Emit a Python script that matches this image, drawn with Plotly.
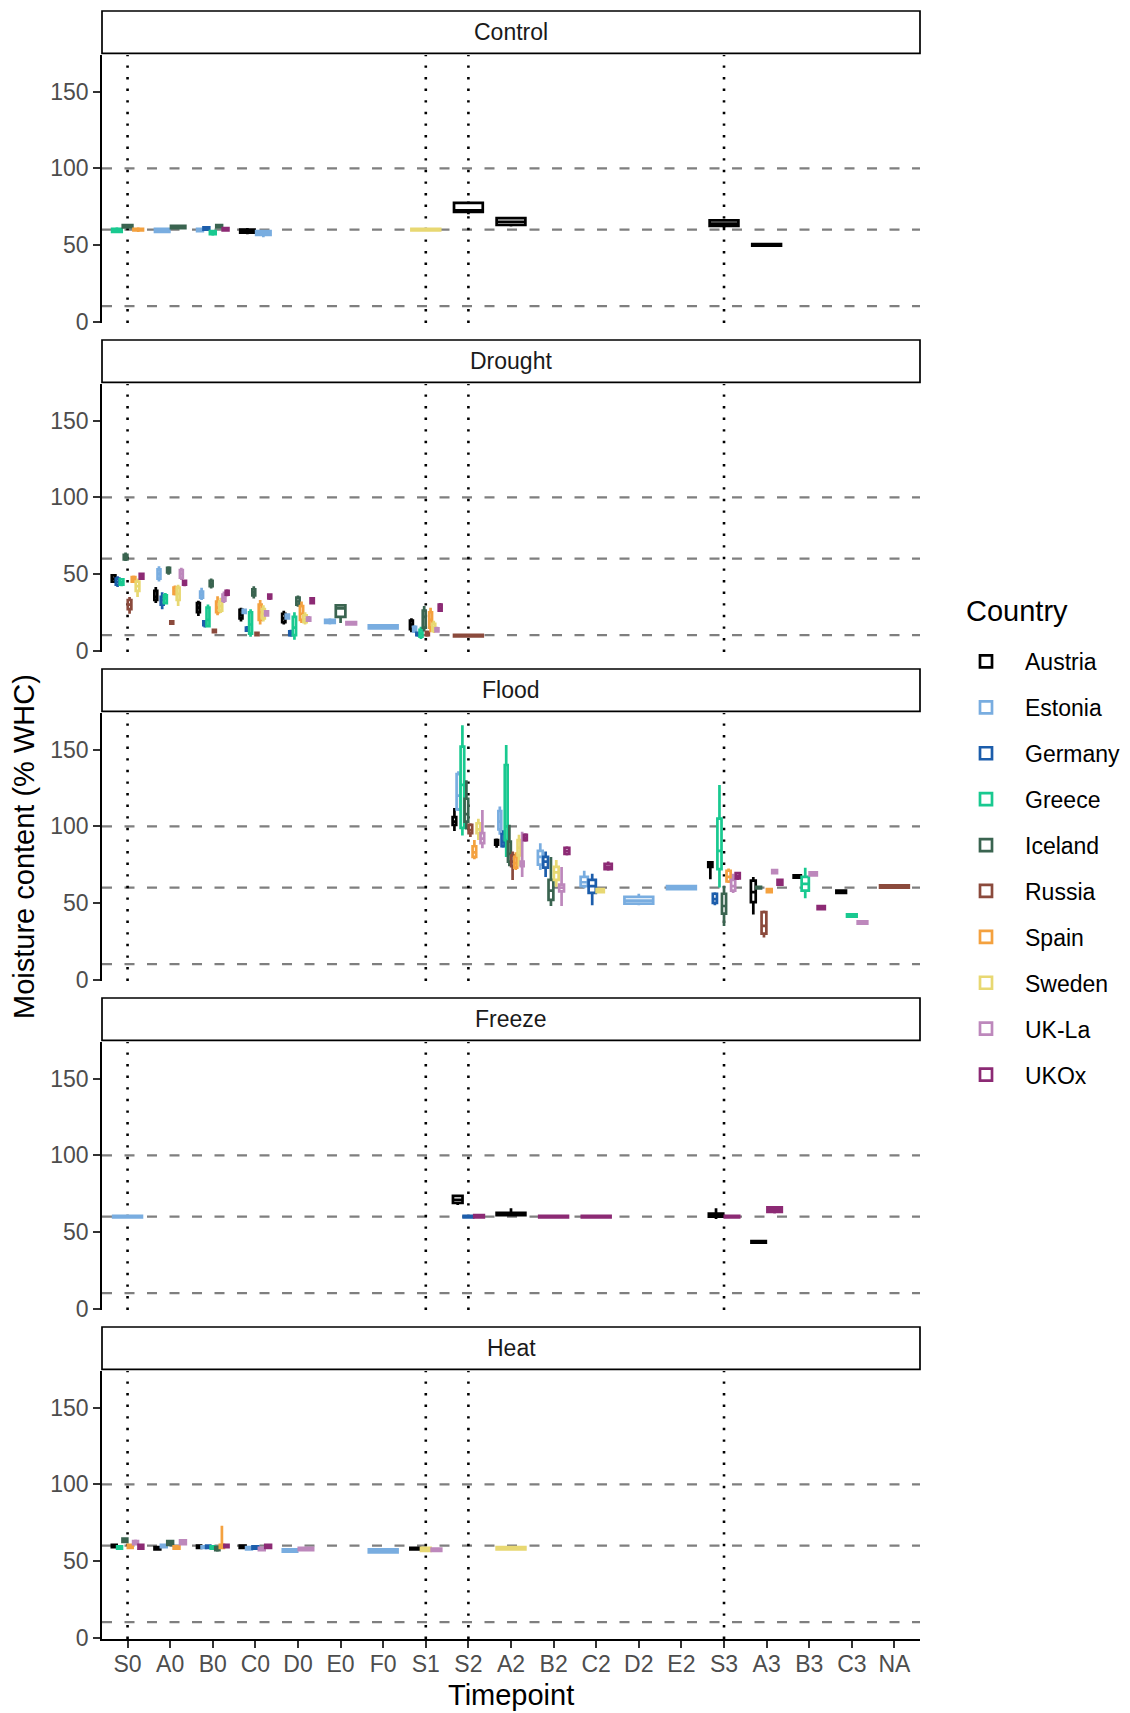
import plotly.graph_objects as go

# ---------------- data ----------------
TIMEPOINTS = ["S0", "A0", "B0", "C0", "D0", "E0", "F0", "S1", "S2", "A2",
              "B2", "C2", "D2", "E2", "S3", "A3", "B3", "C3", "NA"]
COUNTRIES = ["Austria", "Estonia", "Germany", "Greece", "Iceland",
             "Russia", "Spain", "Sweden", "UK-La", "UKOx"]
COLORS = ["#000000", "#79ADE0", "#1C5DAB", "#19C990", "#3A6450",
          "#8B4A3C", "#F4A13F", "#E8D872", "#BD88BC", "#8C2A74"]
TREATMENTS = ["Control", "Drought", "Flood", "Freeze", "Heat"]
REF_H = [10, 60, 100]                 # dashed reference lines
REF_V = ["S0", "S1", "S2", "S3"]      # dotted reference lines
Y_TICKS = [0, 50, 100, 150]

# (timepoint, country, lower whisker, q1, median, q3, upper whisker)
CONTROL = [
    ("S0", "Greece", 57.8, 58.5, 59.5, 60.5, 61.5),
    ("S0", "Iceland", 61, 61.5, 62, 63, 63.7),
    ("S0", "Spain", 58.5, 59.5, 60, 60.5, 61.5),
    ("A0", "Estonia", 58, 58.5, 59.5, 60.5, 61),
    ("A0", "Iceland", 60.5, 61, 61.5, 62.5, 63),
    ("B0", "Estonia", 58.5, 59, 60, 60.5, 61),
    ("B0", "Germany", 59.5, 60, 60.5, 61.5, 62),
    ("B0", "Greece", 56, 57, 58, 59, 59.5),
    ("B0", "Iceland", 61, 61.5, 62, 63, 63.5),
    ("B0", "UKOx", 59, 59.5, 60, 61, 61.5),
    ("C0", "Austria", 57, 58, 59, 60, 61),
    ("C0", "Estonia", 55, 56.5, 57.5, 59, 59.8),
    ("S1", "Sweden", 59, 59.5, 60, 60.5, 61),
    ("S2", "Austria", 70, 71.5, 72.5, 77.5, 78.5),
    ("A2", "Austria", 62, 63, 65, 67.5, 68),
    ("S3", "Austria", 61, 62.5, 64, 66, 67),
    ("A3", "Austria", 49, 49.5, 50, 50.5, 51),
]
DROUGHT = [
    ("S0", "Austria", 44, 45, 47, 49, 50),
    ("S0", "Germany", 41.5, 43, 45, 47, 48.5),
    ("S0", "Greece", 42, 43, 44.5, 46.5, 47),
    ("S0", "Iceland", 58.5, 59.5, 61, 62.5, 64),
    ("S0", "Russia", 24, 27, 30, 33, 35),
    ("S0", "Spain", 44, 45, 46.5, 48, 49),
    ("S0", "Sweden", 35, 39, 42, 45, 47),
    ("S0", "UKOx", 46.5, 47, 48.5, 50, 51),
    ("A0", "Austria", 31, 33, 35, 39, 41.5),
    ("A0", "Estonia", 45, 47, 50, 53, 55),
    ("A0", "Germany", 27, 30, 33, 35, 38),
    ("A0", "Greece", 30, 31, 34, 36, 37.5),
    ("A0", "Iceland", 49.5, 51, 52.5, 54, 55),
    ("A0", "Russia", 17, 17.5, 18, 19, 19.5),
    ("A0", "Spain", 36, 37, 39, 41, 42.5),
    ("A0", "Sweden", 29, 33, 37, 41, 43),
    ("A0", "UK-La", 46, 47.5, 50, 52.5, 54),
    ("A0", "UKOx", 42, 43, 44, 45.5, 46),
    ("B0", "Austria", 22.5, 25, 28, 31, 32.5),
    ("B0", "Estonia", 33, 34.5, 36.5, 38.5, 41),
    ("B0", "Germany", 15, 16.5, 17.5, 19, 20),
    ("B0", "Greece", 15, 16, 20, 28, 30),
    ("B0", "Iceland", 40.5, 42, 43.5, 45.5, 47),
    ("B0", "Russia", 11.5, 12, 12.5, 13.5, 14),
    ("B0", "Spain", 23, 25, 28, 32, 35.5),
    ("B0", "Sweden", 24.5, 26, 29, 32, 34.5),
    ("B0", "UK-La", 31, 32.5, 34.5, 36.5, 38.5),
    ("B0", "UKOx", 35.5, 36.5, 37.5, 39, 40),
    ("C0", "Austria", 19, 21, 23.5, 26.5, 28),
    ("C0", "Estonia", 24, 24.5, 25.5, 26.5, 27.5),
    ("C0", "Germany", 12.5, 13, 14, 15, 16),
    ("C0", "Greece", 9, 11, 17, 25, 27),
    ("C0", "Iceland", 34, 36, 38, 40, 42),
    ("C0", "Russia", 9.5, 10, 10.5, 11.5, 12),
    ("C0", "Spain", 17, 20, 25, 30, 33),
    ("C0", "Sweden", 19, 21, 24, 27, 29.5),
    ("C0", "UK-La", 22, 23, 24, 25.5, 26.5),
    ("C0", "UKOx", 33, 34, 35, 36.5, 37),
    ("D0", "Austria", 17, 18.5, 21, 24, 26),
    ("D0", "Estonia", 20.5, 21, 22, 23.5, 24),
    ("D0", "Germany", 9, 10, 11, 12.5, 13.5),
    ("D0", "Greece", 7, 10, 15, 22, 25),
    ("D0", "Iceland", 28.5, 30, 32, 34.5, 36),
    ("D0", "Spain", 18, 20, 24, 29, 32),
    ("D0", "Sweden", 17, 18.5, 20.5, 23, 25),
    ("D0", "UK-La", 19, 19.5, 20.5, 21.5, 22.5),
    ("D0", "UKOx", 30, 31, 32.5, 34, 35),
    ("E0", "Estonia", 17, 18, 19, 20, 21),
    ("E0", "Iceland", 18, 22, 27.5, 29.5, 30),
    ("E0", "UK-La", 16.5, 17, 17.5, 18.5, 19),
    ("F0", "Estonia", 14, 14.5, 15, 16.5, 17),
    ("S1", "Austria", 12, 14, 17, 19.5, 21),
    ("S1", "Estonia", 11.5, 12.5, 14, 15.5, 16.5),
    ("S1", "Germany", 9, 10, 10.5, 11.5, 12),
    ("S1", "Greece", 7.5, 9, 11, 13.5, 15.5),
    ("S1", "Iceland", 12.5, 15, 22, 26, 29),
    ("S1", "Russia", 9, 10, 11, 12, 13),
    ("S1", "Spain", 12, 15, 20, 25, 28),
    ("S1", "Sweden", 11.5, 13, 15, 17.5, 19.5),
    ("S1", "UK-La", 12, 12.5, 13.5, 14.5, 15.5),
    ("S1", "UKOx", 25.5, 26, 28, 30, 31),
    ("S2", "Russia", 9, 9.3, 9.8, 10.3, 10.8),
]
FLOOD = [
    ("S2", "Austria", 97, 101, 103, 106, 112),
    ("S2", "Estonia", 110, 111, 120, 134, 136),
    ("S2", "Greece", 94, 99, 127, 152, 166),
    ("S2", "Iceland", 98, 103, 108, 118, 130),
    ("S2", "Russia", 93, 95.5, 97.5, 101, 102),
    ("S2", "Spain", 78.5, 80, 83, 87, 91),
    ("S2", "Sweden", 91, 95.5, 98, 102, 105),
    ("S2", "UK-La", 85.7, 89, 92, 95.5, 110.7),
    ("A2", "Austria", 86, 88, 89.5, 91, 92),
    ("A2", "Estonia", 94.5, 98, 103, 110, 113),
    ("A2", "Germany", 86, 87, 90, 95, 97.5),
    ("A2", "Greece", 80, 91, 100, 140, 153),
    ("A2", "Iceland", 74, 77, 82, 90, 101),
    ("A2", "Russia", 65, 74, 77, 81, 83.5),
    ("A2", "Spain", 71.5, 73, 76, 80, 83),
    ("A2", "Sweden", 74, 81, 86, 91, 94.5),
    ("A2", "UK-La", 67, 74, 75.5, 77, 96.5),
    ("A2", "UKOx", 90, 91, 92.5, 94.5, 95.5),
    ("B2", "Estonia", 71.5, 75, 80, 84, 89),
    ("B2", "Germany", 67, 73, 77, 80, 83.5),
    ("B2", "Iceland", 48, 52, 58, 65, 80),
    ("B2", "Sweden", 60.5, 65, 70, 73.5, 78),
    ("B2", "UK-La", 48, 57.5, 60, 62, 73.5),
    ("B2", "UKOx", 81, 82, 84, 86, 87),
    ("C2", "Estonia", 59.5, 61, 63.5, 67, 71),
    ("C2", "Germany", 48.5, 56.5, 61, 65, 69),
    ("C2", "Sweden", 56.5, 57, 58, 59, 59.5),
    ("C2", "UKOx", 71, 72, 73.5, 75.5, 77),
    ("D2", "Estonia", 48.5, 49.5, 51.5, 54, 56),
    ("E2", "Estonia", 58.5, 59, 60, 61, 61.5),
    ("S3", "Austria", 65.5, 73.5, 75, 76.5, 77),
    ("S3", "Germany", 48.5, 50, 52.5, 56, 57),
    ("S3", "Greece", 60, 72, 84, 105, 127),
    ("S3", "Iceland", 35, 43, 48, 56, 61),
    ("S3", "Spain", 63, 64, 67, 71, 72.5),
    ("S3", "UK-La", 56.5, 58, 61, 65, 69),
    ("S3", "UKOx", 65, 66, 67.5, 69.5, 70),
    ("A3", "Austria", 42.5, 50.5, 57, 64.5, 67),
    ("A3", "Iceland", 59, 59.5, 60, 60.5, 61),
    ("A3", "Russia", 27.5, 30, 35, 44, 45),
    ("A3", "Spain", 56.5, 57, 58, 59, 59.5),
    ("A3", "UK-La", 69, 69.5, 70.5, 71.5, 72),
    ("A3", "UKOx", 61, 62, 63.5, 65, 66),
    ("B3", "Austria", 66, 66.5, 67, 68, 68.5),
    ("B3", "Greece", 53, 58, 62.5, 67, 73),
    ("B3", "UK-La", 67.5, 68, 69, 70, 70.5),
    ("B3", "UKOx", 45.5, 46, 47, 48, 48.5),
    ("C3", "Austria", 56, 56.5, 57, 58, 58.5),
    ("C3", "Greece", 40.5, 41, 41.5, 42.5, 43),
    ("C3", "UK-La", 36, 36.5, 37, 38, 38.5),
    ("NA", "Russia", 59.5, 60, 60.5, 61.5, 62),
]
FREEZE = [
    ("S0", "Estonia", 59, 59.5, 60, 60.5, 61),
    ("S2", "Austria", 67.5, 69, 71, 73.5, 74.5),
    ("S2", "Germany", 59, 59.5, 60, 60.5, 61),
    ("S2", "UKOx", 59.5, 59.5, 60.5, 61, 61.5),
    ("A2", "Austria", 60.5, 61, 62, 62.5, 65.5),
    ("B2", "UKOx", 59, 59.5, 60, 60.5, 61),
    ("C2", "UKOx", 59, 59.5, 60, 60.5, 61),
    ("S3", "Austria", 58.5, 60, 61, 62, 65.5),
    ("S3", "UKOx", 59, 59.5, 60, 60.5, 61),
    ("A3", "Austria", 42.5, 43, 43.5, 44, 44.5),
    ("A3", "UKOx", 62, 63, 64.5, 66, 67),
]
HEAT = [
    ("S0", "Austria", 58.5, 59, 60, 60.5, 61),
    ("S0", "Greece", 57.5, 58, 58.5, 59.5, 60),
    ("S0", "Iceland", 62, 62.5, 63.5, 64.5, 65),
    ("S0", "Spain", 58, 58.5, 59.5, 60.5, 61),
    ("S0", "UK-La", 60.5, 61, 62, 63, 64),
    ("S0", "UKOx", 57.5, 58, 59, 60.5, 61),
    ("A0", "Austria", 57, 57.5, 58, 59, 59.5),
    ("A0", "Estonia", 58.5, 59, 59.5, 60.5, 61),
    ("A0", "Iceland", 60, 60.5, 61.5, 63, 63.5),
    ("A0", "Spain", 57.5, 58, 58.5, 59.5, 60),
    ("A0", "UK-La", 60.5, 61, 62, 63.5, 64),
    ("B0", "Austria", 58, 58.5, 59, 60, 60.5),
    ("B0", "Estonia", 58, 58.5, 59, 59.5, 60),
    ("B0", "Germany", 58, 58.5, 59, 60, 60.5),
    ("B0", "Greece", 57.5, 58, 58.5, 59.5, 60),
    ("B0", "Iceland", 56, 57, 58, 59, 59.5),
    ("B0", "Spain", 58, 58.5, 59.5, 60.5, 73),
    ("B0", "UKOx", 58.5, 59, 59.5, 60.5, 61),
    ("C0", "Austria", 58, 58.5, 59, 60, 60.5),
    ("C0", "Estonia", 57, 57.5, 58, 59, 59.5),
    ("C0", "Germany", 57.5, 58, 58.5, 59.5, 60),
    ("C0", "UK-La", 56.5, 57, 57.5, 58.5, 59),
    ("C0", "UKOx", 58, 58.5, 59.5, 60.5, 61),
    ("D0", "Estonia", 55.5, 56, 56.5, 57.5, 58),
    ("D0", "UK-La", 56.5, 57, 57.5, 58.5, 59),
    ("F0", "Estonia", 55, 55.5, 56.5, 57.5, 58),
    ("S1", "Austria", 57, 57.5, 58, 58.5, 59),
    ("S1", "Sweden", 56, 56.5, 57, 58.5, 59),
    ("S1", "UK-La", 56, 56.5, 57, 58, 58.5),
    ("A2", "Sweden", 57, 57.5, 58, 59, 59.5),
]
PANELS = [CONTROL, DROUGHT, FLOOD, FREEZE, HEAT]

# ---------------- geometry (page pixels) ----------------
PAGE_OFF = 8                      # default body margin of the html page
W, H = 1130 - PAGE_OFF, 1713 - PAGE_OFF
PLOT_L, PLOT_R = 102, 920         # page x of plot area
PLOT_TOP, PLOT_BOT = 11, 1639     # page y of plot area
ML = PLOT_L - PAGE_OFF
MR = W - (PLOT_R - PAGE_OFF)
MT = PLOT_TOP - PAGE_OFF
MB = H - (PLOT_BOT - PAGE_OFF)
PANEL_PERIOD = 329
STRIP_TOP0, STRIP_BOT0 = 11, 53.3
PANEL_TOP0, PANEL_BOT0 = 55, 323.0
DODGE_W, PAD = 0.75, 0.1


def fy_raw(py):
    return (PLOT_BOT - py) / (PLOT_BOT - PLOT_TOP)


def fy(py):
    return min(1.0, max(0.0, fy_raw(py)))


def fx(px):
    return (px - PLOT_L) / (PLOT_R - PLOT_L)


FONT = "Liberation Sans, Arial, Helvetica, sans-serif"

# shared y range (ggplot style 5% expansion of data range)
all_vals = [v for p in PANELS for r in p for v in r[2:]]
vmin, vmax = min(all_vals), max(all_vals)
span = vmax - vmin
YR = [vmin - 0.05 * span, vmax + 0.05 * span]

fig = go.Figure()
layout = {}
shapes = []
annotations = []

cidx = {c: i for i, c in enumerate(COUNTRIES)}
tidx = {t: i for i, t in enumerate(TIMEPOINTS)}

# dodge info: which countries present at each (panel, timepoint)
present = {}
for pi, rows in enumerate(PANELS):
    for r in rows:
        present.setdefault((pi, r[0]), []).append(r[1])
for k in present:
    present[k] = sorted(present[k], key=lambda c: cidx[c])

for ci, country in enumerate(COUNTRIES):
    first = True
    for pi, rows in enumerate(PANELS):
        for (tp, c, lf, q1, med, q3, uf) in rows:
            if c != country:
                continue
            grp = present[(pi, tp)]
            n = len(grp)
            k = grp.index(c)
            slot = DODGE_W / n
            xpos = tidx[tp] - DODGE_W / 2 + slot * (k + 0.5)
            suffix = "" if pi == 0 else str(pi + 1)
            fig.add_trace(go.Box(
                x=[xpos], q1=[q1], median=[med], q3=[q3],
                lowerfence=[lf], upperfence=[uf],
                width=slot * (1 - PAD),
                orientation="v",
                xaxis="x" + suffix, yaxis="y" + suffix,
                name=country, legendgroup=country, showlegend=first,
                line=dict(color=COLORS[ci], width=2.7),
                fillcolor="white", whiskerwidth=0, boxpoints=False,
                hoverinfo="skip",
            ))
            first = False

for pi, tname in enumerate(TREATMENTS):
    suffix = "" if pi == 0 else str(pi + 1)
    top = PANEL_TOP0 + PANEL_PERIOD * pi
    bot = PANEL_BOT0 + PANEL_PERIOD * pi
    last = pi == len(TREATMENTS) - 1
    layout["xaxis" + suffix] = dict(
        domain=[0, 1], anchor="y" + suffix, type="linear",
        range=[-0.6, len(TIMEPOINTS) - 1 + 0.6],
        tickvals=list(range(len(TIMEPOINTS))), ticktext=TIMEPOINTS,
        showticklabels=last, ticks="outside" if last else "",
        showline=last, linecolor="black", linewidth=1.7,
        ticklen=7, tickwidth=1.5, tickcolor="#333333",
        ticklabelstandoff=-3,
        tickfont=dict(size=23, color="#4D4D4D", family=FONT),
        showgrid=False, zeroline=False, fixedrange=True,
    )
    layout["yaxis" + suffix] = dict(
        domain=[fy(bot), fy(top)], anchor="x" + suffix,
        range=YR, tickvals=Y_TICKS,
        ticks="outside", ticklen=7, tickwidth=1.5, tickcolor="#333333",
        showline=True, linecolor="black", linewidth=1.7,
        tickfont=dict(size=23, color="#4D4D4D", family=FONT),
        showgrid=False, zeroline=False, fixedrange=True,
    )
    xa = "x" + suffix
    ya = "y" + suffix
    for hv in REF_H:
        shapes.append(dict(type="line", layer="below",
                           xref=xa + " domain", x0=0, x1=1,
                           yref=ya, y0=hv, y1=hv,
                           line=dict(color="#7F7F7F", width=2.3, dash="10px,12.5px")))
    for vv in REF_V:
        shapes.append(dict(type="line", layer="below",
                           xref=xa, x0=tidx[vv], x1=tidx[vv],
                           yref=ya + " domain", y0=0, y1=1,
                           line=dict(color="black", width=2.6, dash="2.4px,9.2px")))
    # strip
    st = STRIP_TOP0 + PANEL_PERIOD * pi
    sb = STRIP_BOT0 + PANEL_PERIOD * pi
    shapes.append(dict(type="rect", xref="paper", yref="paper",
                       x0=0, x1=1, y0=fy(sb), y1=fy(st),
                       line=dict(color="black", width=1.7), fillcolor="white"))
    annotations.append(dict(text=tname, xref="paper", yref="paper",
                            x=0.5, y=fy((st + sb) / 2), showarrow=False,
                            xanchor="center", yanchor="middle",
                            font=dict(size=23, color="#1A1A1A", family=FONT)))

annotations.append(dict(text="Timepoint", xref="paper", yref="paper",
                        x=0.5, y=fy_raw(1695), showarrow=False,
                        xanchor="center", yanchor="middle",
                        font=dict(size=29, color="black", family=FONT)))
annotations.append(dict(text="Moisture content (% WHC)", xref="paper", yref="paper",
                        x=fx(24), y=fy((PANEL_TOP0 + PANEL_BOT0 + PANEL_PERIOD * 4) / 2),
                        showarrow=False, textangle=-90,
                        xanchor="center", yanchor="middle",
                        font=dict(size=29, color="black", family=FONT)))
annotations.append(dict(text="Country", xref="paper", yref="paper",
                        x=fx(964), y=fy(611), showarrow=False,
                        xanchor="left", yanchor="middle",
                        font=dict(size=29, color="black", family=FONT)))

fig.update_layout(
    width=W, height=H,
    margin=dict(l=ML, r=MR, t=MT, b=MB, autoexpand=False),
    paper_bgcolor="white", plot_bgcolor="white",
    font=dict(family=FONT, color="black"),
    shapes=shapes, annotations=annotations,
    boxmode="overlay",
    legend=dict(
        font=dict(size=23, color="black", family=FONT),
        x=fx(947), xanchor="left", y=fy(640), yanchor="top",
        traceorder="grouped", tracegroupgap=13, itemwidth=68,
        bgcolor="rgba(0,0,0,0)", borderwidth=0,
    ),
    **layout,
)

fig.write_html("out.html")
